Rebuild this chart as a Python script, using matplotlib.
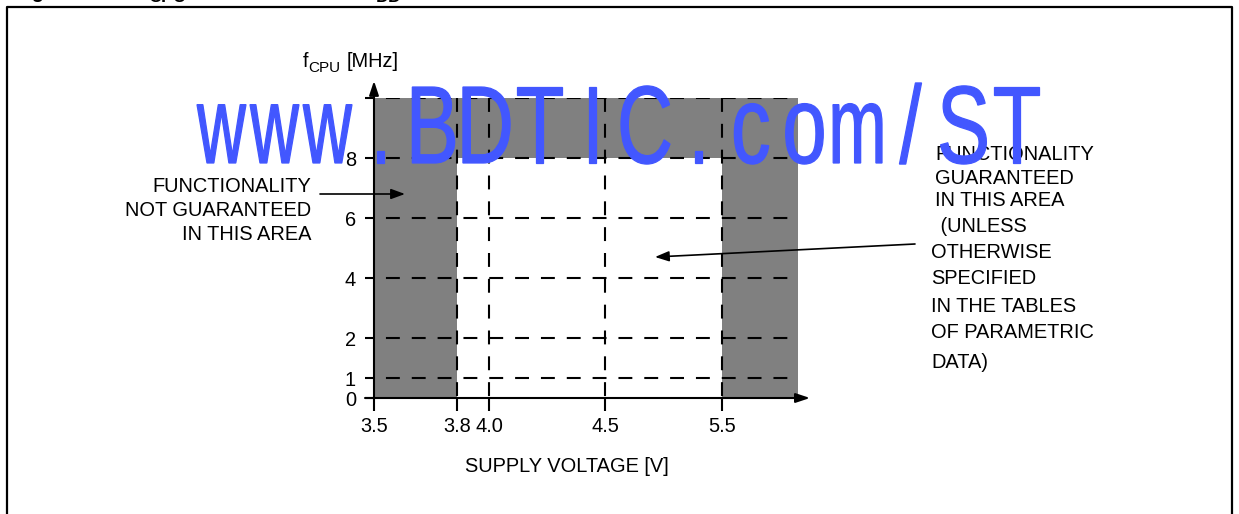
import numpy as np
import matplotlib
matplotlib.use("Agg")
import matplotlib.pyplot as plt
from matplotlib.patches import Rectangle, PathPatch
from matplotlib.textpath import TextPath
from matplotlib.font_manager import FontProperties
from matplotlib.transforms import Affine2D
from matplotlib.lines import Line2D

# ---------------- data ----------------
voltage_ticks = [3.5, 3.8, 4.0, 4.5, 5.5]
voltage_labels = ["3.5", "3.8", "4.0", "4.5", "5.5"]
freq_ticks = [0, 1, 2, 4, 6, 8, 10]
freq_labels = ["0", "1", "2", "4", "6", "8", ""]
freq_grid = [1, 2, 4, 6, 8, 10]
v_grid = [3.8, 4.0, 4.5, 5.5]
v_range = (3.5, 6.0)          # diagram extent (V)
f_range = (0, 10)             # diagram extent (MHz)
guaranteed_v = (3.8, 5.5)     # guaranteed supply range
guaranteed_fmax = 8           # guaranteed max frequency

left_note = ["FUNCTIONALITY", "NOT GUARANTEED", "IN THIS AREA"]
right_note = ["FUNCTIONALITY", "GUARANTEED", "IN THIS AREA", " (UNLESS",
              "OTHERWISE", "SPECIFIED", "IN THE TABLES", "OF PARAMETRIC", "DATA)"]
watermark = "www.BDTIC.com/ST"

# ---------------- schematic (non-linear) scales ----------------
V_ANCHORS = [3.5, 3.8, 4.0, 4.5, 5.5, 6.0]
V_POS = [0, 83, 115, 231, 348, 424]
F_ANCHORS = [0, 1, 2, 4, 6, 8, 10]
F_POS = [0, 20, 60, 120, 180, 240, 300]


def piecewise(xp, fp):
    xp = np.asarray(xp, float)
    fp = np.asarray(fp, float)
    lo_s = (fp[1] - fp[0]) / (xp[1] - xp[0])
    hi_s = (fp[-1] - fp[-2]) / (xp[-1] - xp[-2])

    def f(v):
        v = np.asarray(v, float)
        out = np.interp(v, xp, fp)
        out = np.where(v < xp[0], fp[0] + (v - xp[0]) * lo_s, out)
        out = np.where(v > xp[-1], fp[-1] + (v - xp[-1]) * hi_s, out)
        return out
    return f


W, H = 1239, 514
fig = plt.figure(figsize=(W / 100, H / 100), dpi=100)
fig.patch.set_facecolor("white")

FONT = "Liberation Sans"
FS = 14.4

ax = fig.add_axes([374 / W, (H - 398) / H, 424 / W, 300 / H])
ax.set_xscale("function", functions=(piecewise(V_ANCHORS, V_POS), piecewise(V_POS, V_ANCHORS)))
ax.set_yscale("function", functions=(piecewise(F_ANCHORS, F_POS), piecewise(F_POS, F_ANCHORS)))
ax.set_xlim(*v_range)
ax.set_ylim(*f_range)
ax.patch.set_alpha(0)
for s in ax.spines.values():
    s.set_visible(False)

GRAY = "#808080"
# not-guaranteed areas
ax.add_patch(Rectangle((v_range[0], f_range[0]), guaranteed_v[0] - v_range[0],
                       f_range[1] - f_range[0], facecolor=GRAY, edgecolor="none", zorder=1))
ax.add_patch(Rectangle((guaranteed_v[1], f_range[0]), v_range[1] - guaranteed_v[1],
                       f_range[1] - f_range[0], facecolor=GRAY, edgecolor="none", zorder=1))
ax.add_patch(Rectangle((guaranteed_v[0], guaranteed_fmax), guaranteed_v[1] - guaranteed_v[0],
                       f_range[1] - guaranteed_fmax, facecolor=GRAY, edgecolor="none", zorder=1))

# dashed grid
plt.rcParams["lines.scale_dashes"] = False
dash_h = (10.0, (10.0, 8.6))
dash_v = (0.0, (10.0, 8.6))
ax.hlines(freq_grid, v_range[0], v_range[1], colors="black", linewidth=1.5,
          linestyles=[dash_h], zorder=2)
ax.vlines(v_grid, [f_range[1]] * len(v_grid), [f_range[0]] * len(v_grid), colors="black",
          linewidth=1.5, linestyles=[dash_v], zorder=2)

# axes with arrows
arrow_kw = dict(arrowstyle="-|>,head_length=0.6,head_width=0.2", color="black",
                lw=1.5, shrinkA=0, shrinkB=0, mutation_scale=14)
ax.annotate("", xy=(v_range[0], f_range[1] + 0.57), xytext=(v_range[0], f_range[0]),
            arrowprops=arrow_kw, annotation_clip=False, zorder=3)
ax.annotate("", xy=(v_range[1] + 0.079, f_range[0]), xytext=(v_range[0] - 0.0325, f_range[0]),
            arrowprops=arrow_kw, annotation_clip=False, zorder=3)

# ticks
ax.set_xticks(voltage_ticks)
ax.set_xticklabels(voltage_labels, fontfamily=FONT, fontsize=FS)
ax.set_yticks(freq_ticks)
ax.set_yticklabels(freq_labels, fontfamily=FONT, fontsize=FS)
ax.tick_params(axis="x", direction="out", length=9.4, width=1.5, pad=4.5)
ax.tick_params(axis="y", direction="out", length=6.5, width=1.5, pad=6.5)
ax.minorticks_off()


def px(x, y):
    """figure-fraction position from image coords (y from top)"""
    return x / W, (H - y) / H


# axis labels
fig.text(*px(303, 67), "f", fontfamily=FONT, fontsize=FS, va="baseline", ha="left")
fig.text(*px(308, 72), "CPU", fontfamily=FONT, fontsize=11, va="baseline", ha="left")
fig.text(*px(347, 67), "[MHz]", fontfamily=FONT, fontsize=FS, va="baseline", ha="left")
fig.text(*px(567, 467), "SUPPLY VOLTAGE [V]", fontfamily=FONT, fontsize=FS,
         va="center", ha="center")

# notes
for i, line in enumerate(left_note):
    fig.text(*px(311, 187 + 23.5 * i), line, fontfamily=FONT, fontsize=FS,
             va="center", ha="right")
right_y = [154, 178, 201, 226, 252, 279, 307, 333, 362]
for i, line in enumerate(right_note):
    x0 = 935 if i < 4 else 931
    fig.text(*px(x0, right_y[i]), line, fontfamily=FONT, fontsize=FS,
             va="center", ha="left")

# pointer arrows
ptr_kw = dict(arrowstyle="-|>,head_length=0.6,head_width=0.22", color="black",
              lw=1.2, shrinkA=0, shrinkB=0, mutation_scale=14)
ax.annotate("", xy=(3.612, 6.8), xycoords="data", xytext=(320, H - 194),
            textcoords="figure pixels", arrowprops=ptr_kw, annotation_clip=False, zorder=4)
ax.annotate("", xy=(4.927, 4.7), xycoords="data", xytext=(915, H - 244),
            textcoords="figure pixels", arrowprops=ptr_kw, annotation_clip=False, zorder=4)

# caption (mostly cut off at top, as in the reference)
fig.text(*px(14, -2.5), "Figure 8.", fontfamily=FONT, fontsize=FS, fontweight="bold", va="baseline")
fig.text(*px(140, -3.5), "f", fontfamily=FONT, fontsize=FS, fontweight="bold", va="baseline")
fig.text(*px(148, 1.5), "CPU", fontfamily=FONT, fontsize=13, fontweight="bold", va="baseline")
fig.text(*px(193, -3.5), " maximum versus V", fontfamily=FONT, fontsize=FS, fontweight="bold",
         va="baseline")
fig.text(*px(376, 1.5), "DD", fontfamily=FONT, fontsize=13, fontweight="bold", va="baseline")

# frame
fig.add_artist(Line2D([7 / W, 7 / W, 1232 / W, 1232 / W], [-0.05, (H - 7) / H, (H - 7) / H, -0.05],
                      transform=fig.transFigure, color="black", lw=1.6))

# watermark: monospaced cells, condensed glyphs
fp = FontProperties(family=FONT)
capB = TextPath((0, 0), "B", size=1, prop=fp).get_extents()
E = 76.0 / capB.height
sx = 0.72
maxw = 49.0
cell = 53.0
left = 195.0
base = H - 163
BLUE = "#4257FF"
for i, ch in enumerate(watermark):
    tp = TextPath((0, 0), ch, size=1, prop=fp)
    bb = tp.get_extents()
    cx0 = (bb.x0 + bb.x1) / 2
    sxi = min(sx, maxw / (bb.width * E)) if bb.width > 0 else sx
    cx = left + cell * (i + 0.5)
    tr = Affine2D().translate(-cx0, 0).scale(sxi * E, E).translate(cx, base)
    patch = PathPatch(tp, transform=tr, facecolor=BLUE, edgecolor=BLUE, lw=0.9, zorder=10)
    fig.add_artist(patch)

fig.savefig("out.png", dpi=100)
